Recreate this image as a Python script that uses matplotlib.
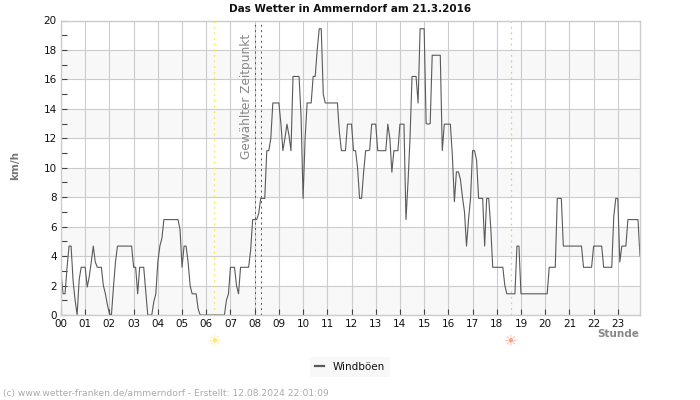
# Windboeen Ammerndorf, 5-Minuten-Werte vom 21.3.2016
import numpy as np
import matplotlib
matplotlib.use("Agg")
import matplotlib.pyplot as plt

TITLE = "Das Wetter in Ammerndorf am 21.3.2016"
FOOTER = "(c) www.wetter-franken.de/ammerndorf - Erstellt: 12.08.2024 22:01:09"

hour_labels = ["%02d" % h for h in range(24)]
y_major = [0, 2, 4, 6, 8, 10, 12, 14, 16, 18, 20]
y_minor = [1, 3, 5, 7, 9, 11, 13, 15, 17, 19]

# Sonnenaufgang, Sonnenuntergang, gewaehlter Zeitpunkt (Stunden)
sunrise = 6.33
sunset = 18.58
selected = [8.0, 8.25]

gust = [
    2.9, 1.44, 1.44, 3.24, 4.68, 4.68, 2.3, 1.0, 0, 2.4, 3.24, 3.24,
    3.24, 1.9, 2.6, 3.6, 4.68, 3.6, 3.24, 3.24, 3.24, 2.0, 1.44, 0.7,
    0.1, 0, 1.9, 3.6, 4.68, 4.68, 4.68, 4.68, 4.68, 4.68, 4.68, 4.68,
    3.24, 3.24, 1.44, 3.24, 3.24, 3.24, 1.6, 0, 0, 0, 0.9, 1.44,
    3.6, 4.68, 5.2, 6.48, 6.48, 6.48, 6.48, 6.48, 6.48, 6.48, 6.48, 5.8,
    3.24, 4.68, 4.68, 3.6, 2.0, 1.44, 1.44, 1.44, 0.4, 0, 0, 0,
    0, 0, 0, 0, 0, 0, 0, 0, 0, 0, 1.0, 1.44,
    3.24, 3.24, 3.24, 2.0, 1.44, 3.24, 3.24, 3.24, 3.24, 3.24, 4.4, 6.48,
    6.48, 6.48, 6.9, 7.92, 7.92, 7.92, 11.16, 11.16, 12.0, 14.4, 14.4, 14.4,
    14.4, 13.0, 11.16, 12.0, 12.96, 12.2, 11.16, 16.2, 16.2, 16.2, 16.2, 13.5,
    7.92, 12.0, 14.4, 14.4, 14.4, 16.2, 16.2, 18.0, 19.44, 19.44, 15.0, 14.4,
    14.4, 14.4, 14.4, 14.4, 14.4, 14.4, 12.4, 11.16, 11.16, 11.16, 12.96, 12.96,
    12.96, 11.16, 11.16, 10.0, 7.92, 7.92, 9.7, 11.16, 11.16, 11.2, 12.96, 12.96,
    12.96, 11.16, 11.16, 11.16, 11.16, 11.16, 12.96, 12.0, 9.7, 11.16, 11.16, 11.16,
    12.96, 12.96, 12.96, 6.48, 9.0, 12.0, 16.2, 16.2, 16.2, 14.4, 19.44, 19.44,
    19.44, 13.0, 12.96, 13.0, 17.64, 17.64, 17.64, 17.64, 17.64, 11.16, 12.96, 12.96,
    12.96, 12.96, 10.8, 7.7, 9.72, 9.72, 9.2, 8.0, 7.0, 4.68, 6.48, 7.92,
    11.16, 11.16, 10.5, 7.92, 7.92, 7.92, 4.68, 7.92, 7.92, 6.0, 3.24, 3.24,
    3.24, 3.24, 3.24, 3.24, 2.0, 1.44, 1.44, 1.44, 1.44, 1.44, 4.68, 4.68,
    1.44, 1.44, 1.44, 1.44, 1.44, 1.44, 1.44, 1.44, 1.44, 1.44, 1.44, 1.44,
    1.44, 1.44, 3.24, 3.24, 3.24, 3.24, 7.92, 7.92, 7.92, 4.68, 4.68, 4.68,
    4.68, 4.68, 4.68, 4.68, 4.68, 4.68, 4.68, 3.24, 3.24, 3.24, 3.24, 3.24,
    4.68, 4.68, 4.68, 4.68, 4.68, 3.24, 3.24, 3.24, 3.24, 3.24, 6.7, 7.92,
    7.92, 3.6, 4.68, 4.68, 4.68, 6.48, 6.48, 6.48, 6.48, 6.48, 6.48, 4.0,
]

hours = np.arange(len(gust)) * 5 / 60

plt.rcParams["font.family"] = "DejaVu Sans"
fig = plt.figure(figsize=(7, 4), dpi=100)
ax = fig.add_axes([61 / 700, 1 - 315 / 400, 579 / 700, 294.5 / 400])

# abwechselnde Baender und Gitter
for lo in y_major[:-1:2]:
    ax.axhspan(lo, lo + 2, color="#f8f8f8", lw=0, zorder=0)
ax.set_axisbelow(True)
ax.grid(True, color="#cccccc", lw=0.8)

# unter den Achsenlinien, damit die Null-Abschnitte verschwinden
ax.plot(hours, gust, color="#5a5a5a", lw=0.8, label="Windböen", zorder=2.2)

ax.axvline(sunrise, color="#ffe94a", lw=0.9, ls=(0, (1.5, 3)), zorder=2)
ax.axvline(sunset, color="#f7c27c", lw=0.9, ls=(0, (1.5, 3)), zorder=2)
for t in selected:
    ax.axvline(t, color="#555555", lw=0.7, ls=(0, (2, 3.5)), zorder=2)

ax.set_xlim(0, hours[-1])
ax.set_ylim(0, 20)
ax.set_xticks(np.arange(24))
ax.set_xticklabels(hour_labels)
ax.set_yticks(y_major)
ax.set_yticks(y_minor, minor=True)
ax.tick_params(axis="both", which="major", direction="in", length=4, width=0.8,
               color="#444444", labelsize=7.5, pad=3, labelcolor="#111111")
ax.tick_params(axis="y", which="minor", direction="in", length=4, width=0.8, color="#444444")
for side in ax.spines.values():
    side.set_color("#cccccc")
    side.set_linewidth(1.0)

ax.text(7.65, 19.1, "Gewählter Zeitpunkt", rotation=90, ha="center", va="top",
        color="#888888", fontsize=8.7)

fig.text(350 / 700, 1 - 8.5 / 400, TITLE, ha="center", va="center", fontsize=7.5,
         fontweight="bold", color="#111111")
fig.text(15.5 / 700, 1 - 166 / 400, "km/h", rotation=90, ha="center", va="center",
         fontsize=7.5, fontweight="bold", color="#777777")
fig.text(639 / 700, 1 - 334 / 400, "Stunde", ha="right", va="center", fontsize=7.5,
         fontweight="bold", color="#888888")
fig.text(3 / 700, 1 - 393.5 / 400, FOOTER, ha="left", va="center", fontsize=6.6,
         color="#aaaaaa")

# Sonnensymbole unter der Achse
sun_y = 1 - 341 / 400
for t, col in [(sunrise, "#ffe680"), (sunset, "#ffa38c")]:
    ax.annotate("☀", xy=(t, 0), xycoords="data", xytext=(t, sun_y), color=col,
                textcoords=("data", "figure fraction"), ha="center", va="center",
                fontsize=11, annotation_clip=False)

leg = fig.legend(loc="center", bbox_to_anchor=(350 / 700, 1 - 367 / 400), frameon=True,
                 fontsize=7.5, handlelength=0.9, borderpad=0.45, handletextpad=0.8,
                 fancybox=False, labelcolor="#111111")
leg.get_frame().set_facecolor("#f8f8f8")
leg.get_frame().set_edgecolor("none")
leg.get_frame().set_alpha(1)
for h in leg.get_lines():
    h.set_linewidth(1.6)

fig.savefig("out.png", dpi=100)
